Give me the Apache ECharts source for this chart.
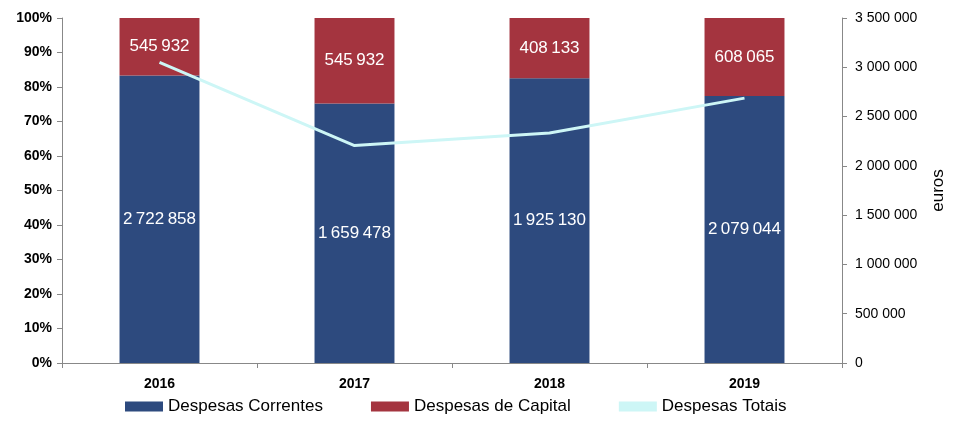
<!DOCTYPE html>
<html><head><meta charset="utf-8">
<script src="https://cdn.jsdelivr.net/npm/echarts@6/dist/echarts.min.js"></script>
<style>html,body{margin:0;padding:0;background:#fff}#c{width:955px;height:421px}</style>
</head><body><div id="c"></div>
<script>
var years = ['2016', '2017', '2018', '2019'];
var correntes = [2722858, 1659478, 1925130, 2079044];
var capital = [545932, 545932, 408133, 608065];
var totais = [3050000, 2205410, 2333263, 2687109];
var rightTicks = [0, 500000, 1000000, 1500000, 2000000, 2500000, 3000000, 3500000];

function fmt(v) { return String(Math.round(v)).replace(/\B(?=(\d{3})+(?!\d))/g, '\u2009'); }
function fmtAxis(v) { return String(Math.round(v)).replace(/\B(?=(\d{3})+(?!\d))/g, ' '); }
function pct(a, b) { return a / (a + b) * 100; }

var pctCor = correntes.map(function (v, i) { return pct(v, capital[i]); });
var pctCap = capital.map(function (v, i) { return 100 - pctCor[i]; });

var chart = echarts.init(document.getElementById('c'));
var labelStyle = { show: true, position: 'inside', color: '#fff', fontFamily: 'Arial', fontSize: 17 };
chart.setOption({
  animation: false,
  textStyle: { fontFamily: 'Arial' },
  grid: { left: 62, right: 110, top: 18, bottom: 58 },
  legend: {
    bottom: 1, left: 120, itemWidth: 38, itemHeight: 10, itemGap: 48,
    textStyle: { fontSize: 17, color: '#000', fontFamily: 'Arial' },
    data: [
      { name: 'Despesas Correntes', icon: 'rect' },
      { name: 'Despesas de Capital', icon: 'rect' },
      { name: 'Despesas Totais', icon: 'rect' }
    ]
  },
  xAxis: {
    type: 'category', data: years,
    axisLine: { lineStyle: { color: '#888' } },
    axisTick: { show: true, lineStyle: { color: '#888' } },
    axisLabel: { color: '#000', fontWeight: 'bold', fontSize: 14, margin: 14 }
  },
  yAxis: [
    {
      type: 'value', min: 0, max: 100, interval: 10,
      axisLine: { show: true, lineStyle: { color: '#888' } },
      axisTick: { show: true, length: 5, lineStyle: { color: '#888' } },
      splitLine: { show: false },
      axisLabel: { color: '#000', fontWeight: 'bold', fontSize: 14, formatter: '{value}%', margin: 10 }
    },
    {
      type: 'value', min: 0, max: 3500000, interval: 500000,
      name: 'euros', nameLocation: 'middle', nameRotate: 90, nameGap: 88,
      nameTextStyle: { color: '#000', fontSize: 17 },
      axisLine: { show: true, lineStyle: { color: '#888' } },
      axisTick: { show: true, length: 5, lineStyle: { color: '#888' } },
      splitLine: { show: false },
      axisLabel: { color: '#000', fontSize: 14, margin: 13, formatter: function (v) { return rightTicks.indexOf(v) >= 0 ? fmtAxis(v) : ''; } }
    }
  ],
  series: [
    {
      name: 'Despesas Correntes', type: 'bar', stack: 's', barWidth: '41%',
      itemStyle: { color: '#2d4a7e' },
      label: Object.assign({}, labelStyle, { formatter: function (p) { return fmt(correntes[p.dataIndex]); } }),
      data: pctCor
    },
    {
      name: 'Despesas de Capital', type: 'bar', stack: 's',
      itemStyle: { color: '#a4343f' },
      label: Object.assign({}, labelStyle, { formatter: function (p) { return fmt(capital[p.dataIndex]); } }),
      data: pctCap
    },
    {
      name: 'Despesas Totais', type: 'line', yAxisIndex: 1, symbol: 'none', z: 5,
      lineStyle: { color: '#cdf6f6', width: 3 },
      itemStyle: { color: '#cdf6f6' },
      data: totais
    }
  ]
});
</script></body></html>
